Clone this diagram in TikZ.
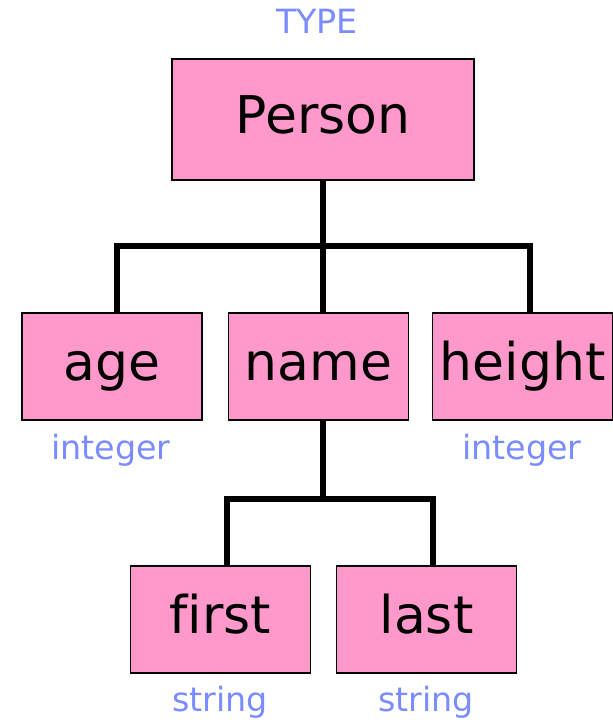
\documentclass[tikz,border=0pt]{standalone}
\usepackage{fontspec}
\setmainfont[Ligatures=NoCommon]{DejaVu Sans}
\definecolor{boxpink}{RGB}{255,153,204}
\definecolor{typeblue}{RGB}{122,140,255}

\begin{document}
\begin{tikzpicture}[x=0.75pt,y=-0.75pt,
  field/.style={draw=black,line width=1.3pt,fill=boxpink,inner sep=0pt,
    minimum width=135pt,minimum height=80.25pt,
    text height=31pt,text depth=10pt,font=\fontsize{39}{40}\selectfont},
  tname/.style={text=typeblue,anchor=base,font=\fontsize{25}{26}\selectfont},
  link/.style={line width=4pt}]

\useasboundingbox (0,0) rectangle (613,722);

% Boxes of the record type.
\node[field,minimum width=227pt,minimum height=90.75pt] (person) at (323,119.5) {Person};
\node[field] (age) at (112,366.5) {age};
\node[field] (name) at (318.5,366.5) {name};
\node[field] (height) at (522.5,366.5) {height};
\node[field] (first) at (220.5,619.5) {first};
\node[field] (last) at (426.5,619.5) {last};

% Type names in blue.
\node[tname] (ttype) at (317,33) {TYPE};
\node[tname] (tage) at (111,459) {integer};
\node[tname] (theight) at (522,459) {integer};
\node[tname] (tfirst) at (220,711) {string};
\node[tname] (tlast) at (426,711) {string};

% Bars joining a box to its parts.
\coordinate (barL) at (117,246);
\coordinate (barR) at (530,246);
\coordinate (subL) at (227,499);
\coordinate (subR) at (433,499);

\draw[link] (person.south) -- (person.south |- name.north);
\draw[link] (age.north -| barL) -- (barL) -- (barR) -- (height.north -| barR);

\draw[link] (name.south -| person.south) -- (person.south |- subL);
\draw[link] (first.north -| subL) -- (subL) -- (subR) -- (last.north -| subR);

\end{tikzpicture}
\end{document}
